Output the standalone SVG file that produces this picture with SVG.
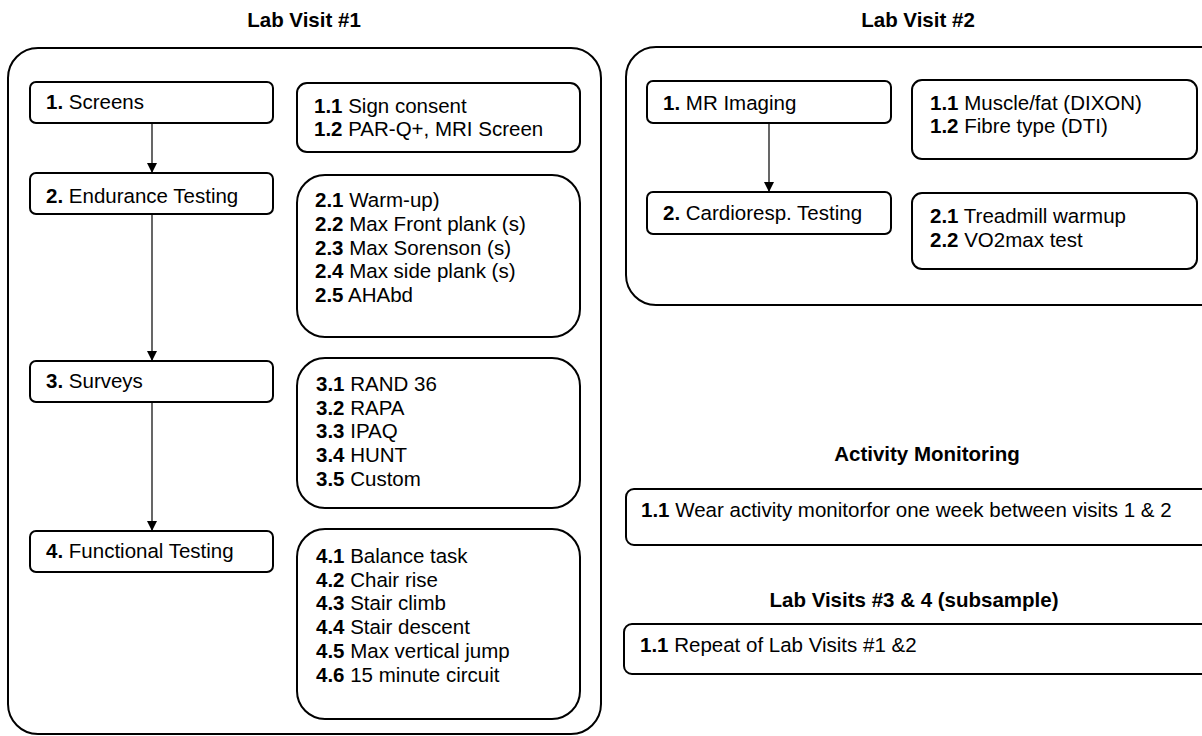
<svg xmlns="http://www.w3.org/2000/svg" width="1202" height="736" viewBox="0 0 1202 736">
<defs>
<marker id="arr" markerWidth="10" markerHeight="10" refX="10" refY="5" orient="auto" markerUnits="userSpaceOnUse">
<path d="M0,0 L10,5 L0,10 Z" fill="#000"/>
</marker>
<style>
text{font-family:"Liberation Sans",Arial,sans-serif;font-size:20.5px;fill:#000}
.t{font-weight:bold;text-anchor:middle}
.b{font-weight:bold}
.box{fill:#fff;stroke:#000;stroke-width:2}
.outer{fill:none;stroke:#000;stroke-width:2}
.conn{stroke:#000;stroke-width:1.2;fill:none}
</style>
</defs>
<rect width="1202" height="736" fill="#fff"/>

<g id="labvisit1">
<text class="t" x="304" y="27">Lab Visit #1</text>
<rect class="outer" x="8" y="48" width="593" height="686" rx="30"/>
</g>
<g id="labvisit2">
<text class="t" x="918" y="27">Lab Visit #2</text>
<rect class="outer" x="626" y="47" width="610" height="258" rx="30"/>
</g>

<g id="connectors">
<line class="conn" x1="152" y1="123" x2="152" y2="173" marker-end="url(#arr)"/>
<line class="conn" x1="152" y1="214" x2="152" y2="361" marker-end="url(#arr)"/>
<line class="conn" x1="152" y1="402" x2="152" y2="531" marker-end="url(#arr)"/>
<line class="conn" x1="769" y1="123" x2="769" y2="192" marker-end="url(#arr)"/>
</g>

<g id="screens">
<rect class="box" x="30" y="82" width="243" height="41" rx="6"/>
<text x="46" y="109"><tspan class="b">1.</tspan> Screens</text>
</g>
<g id="screens-items">
<rect class="box" x="297" y="83" width="283" height="69" rx="10"/>
<text x="314" y="113"><tspan class="b">1.1</tspan> Sign consent</text>
<text x="314" y="136"><tspan class="b">1.2</tspan> PAR-Q+, MRI Screen</text>
</g>

<g id="endurance">
<rect class="box" x="30" y="173" width="243" height="41" rx="6"/>
<text x="46" y="203"><tspan class="b">2.</tspan> Endurance Testing</text>
</g>
<g id="endurance-items">
<rect class="box" x="297" y="175" width="283" height="162" rx="28"/>
<text x="315" y="207"><tspan class="b">2.1</tspan> Warm-up)</text>
<text x="315" y="231"><tspan class="b">2.2</tspan> Max Front plank (s)</text>
<text x="315" y="254.5"><tspan class="b">2.3</tspan> Max Sorenson (s)</text>
<text x="315" y="278"><tspan class="b">2.4</tspan> Max side plank (s)</text>
<text x="315" y="302"><tspan class="b">2.5</tspan> AHAbd</text>
</g>

<g id="surveys">
<rect class="box" x="30" y="361" width="243" height="41" rx="6"/>
<text x="46" y="388"><tspan class="b">3.</tspan> Surveys</text>
</g>
<g id="surveys-items">
<rect class="box" x="297" y="358" width="283" height="150" rx="28"/>
<text x="316" y="391"><tspan class="b">3.1</tspan> RAND 36</text>
<text x="316" y="415"><tspan class="b">3.2</tspan> RAPA</text>
<text x="316" y="438"><tspan class="b">3.3</tspan> IPAQ</text>
<text x="316" y="462"><tspan class="b">3.4</tspan> HUNT</text>
<text x="316" y="486"><tspan class="b">3.5</tspan> Custom</text>
</g>

<g id="functional">
<rect class="box" x="30" y="531" width="243" height="41" rx="6"/>
<text x="46" y="558"><tspan class="b">4.</tspan> Functional Testing</text>
</g>
<g id="functional-items">
<rect class="box" x="297" y="529" width="283" height="190" rx="28"/>
<text x="316" y="563"><tspan class="b">4.1</tspan> Balance task</text>
<text x="316" y="587"><tspan class="b">4.2</tspan> Chair rise</text>
<text x="316" y="610"><tspan class="b">4.3</tspan> Stair climb</text>
<text x="316" y="634"><tspan class="b">4.4</tspan> Stair descent</text>
<text x="316" y="658"><tspan class="b">4.5</tspan> Max vertical jump</text>
<text x="316" y="682"><tspan class="b">4.6</tspan> 15 minute circuit</text>
</g>

<g id="mr-imaging">
<rect class="box" x="647" y="81" width="244" height="42" rx="6"/>
<text x="663" y="110"><tspan class="b">1.</tspan> MR Imaging</text>
</g>
<g id="mr-items">
<rect class="box" x="912" y="80" width="285" height="79" rx="10"/>
<text x="930" y="110"><tspan class="b">1.1</tspan> Muscle/fat (DIXON)</text>
<text x="930" y="133"><tspan class="b">1.2</tspan> Fibre type (DTI)</text>
</g>

<g id="cardio">
<rect class="box" x="647" y="192" width="244" height="42" rx="6"/>
<text x="663" y="220"><tspan class="b">2.</tspan> Cardioresp. Testing</text>
</g>
<g id="cardio-items">
<rect class="box" x="912" y="193" width="285" height="76" rx="10"/>
<text x="930" y="223"><tspan class="b">2.1</tspan> Treadmill warmup</text>
<text x="930" y="247"><tspan class="b">2.2</tspan> VO2max test</text>
</g>

<g id="activity">
<text class="t" x="927" y="461">Activity Monitoring</text>
<rect class="box" x="626" y="489" width="610" height="56" rx="8"/>
<text x="641" y="517"><tspan class="b">1.1</tspan> Wear activity monitorfor one week between visits 1 &amp; 2</text>
</g>

<g id="labvisits34">
<text class="t" x="914" y="607">Lab Visits #3 &amp; 4 (subsample)</text>
<rect class="box" x="624" y="624" width="612" height="50" rx="8"/>
<text x="640" y="652"><tspan class="b">1.1</tspan> Repeat of Lab Visits #1 &amp;2</text>
</g>
</svg>
